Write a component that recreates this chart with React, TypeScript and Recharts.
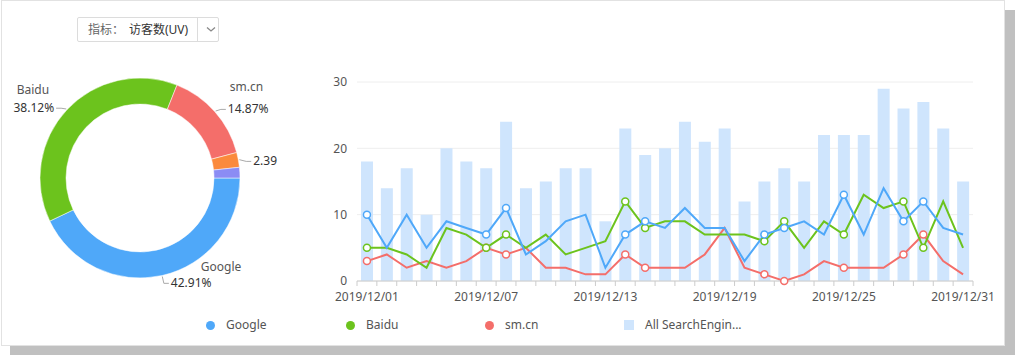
import React from "react";
import {
  PieChart,
  Pie,
  Cell,
  ComposedChart,
  Bar,
  Line,
  XAxis,
  YAxis,
  CartesianGrid,
} from "recharts";

// donut: share of visitors (UV) by search engine
const pieNames = ["Google", "Baidu", "sm.cn", "Other", "Unknown"];
const pieShares = [42.91, 38.12, 14.87, 2.39, 1.71];
const pieLabels = ["42.91%", "38.12%", "14.87%", "2.39", ""];
const pieNameShown = [true, true, true, false, false];
const pieColors = ["#4fa8f9", "#6cc31d", "#f46e6a", "#fb8a3c", "#8b8cf4"];

// daily visitors, December 2019
const dates = [
  "2019/12/01", "2019/12/02", "2019/12/03", "2019/12/04", "2019/12/05", "2019/12/06",
  "2019/12/07", "2019/12/08", "2019/12/09", "2019/12/10", "2019/12/11", "2019/12/12",
  "2019/12/13", "2019/12/14", "2019/12/15", "2019/12/16", "2019/12/17", "2019/12/18",
  "2019/12/19", "2019/12/20", "2019/12/21", "2019/12/22", "2019/12/23", "2019/12/24",
  "2019/12/25", "2019/12/26", "2019/12/27", "2019/12/28", "2019/12/29", "2019/12/30",
  "2019/12/31",
];
const google = [10, 5, 10, 5, 9, 8, 7, 11, 4, 6, 9, 10, 2, 7, 9, 8, 11, 8, 8, 3, 7, 8, 9, 7, 13, 7, 14, 9, 12, 8, 7];
const baidu = [5, 5, 4, 2, 8, 7, 5, 7, 5, 7, 4, 5, 6, 12, 8, 9, 9, 7, 7, 7, 6, 9, 5, 9, 7, 13, 11, 12, 5, 12, 5];
const smcn = [3, 4, 2, 3, 2, 3, 5, 4, 5, 2, 2, 1, 1, 4, 2, 2, 2, 4, 8, 2, 1, 0, 1, 3, 2, 2, 2, 4, 7, 3, 1];
const allEngines = [18, 14, 17, 10, 20, 18, 17, 24, 14, 15, 17, 17, 9, 23, 19, 20, 24, 21, 23, 12, 15, 17, 15, 22, 22, 22, 29, 26, 27, 23, 15];
const yTicks = [0, 10, 20, 30];
// days where the line symbols are drawn
const markerDays = [0, 6, 7, 13, 14, 20, 21, 24, 27, 28];

const pieData = pieNames.map((name, i) => ({ name, value: pieShares[i] }));
const lineData = dates.map((date, i) => ({
  date,
  google: google[i],
  baidu: baidu[i],
  smcn: smcn[i],
  all: allEngines[i],
}));

const FONT = "'Microsoft YaHei', 'Noto Sans', 'Noto Sans CJK SC', sans-serif";
const BLUE = "#4fa8f9";
const GREEN = "#6cc31d";
const RED = "#f46e6a";
const BAR = "#cfe5fd";

const CHART_W = 716;
const MARGIN = { top: 12, right: 43, bottom: 9, left: 0 };
const Y_W = 57;
const BAND = (CHART_W - MARGIN.left - MARGIN.right - Y_W) / dates.length;
const RAD = Math.PI / 180;
// label tweaks per slice (name x shift, text y shift, gap between name and percent)
const nameDx = [30, -5, 2, 0, 0];
const labelDy = [0, 4, 3, 3, 0];
const nameGap = [16, 18, 22, 0, 0];

function PieLabel(props: any) {
  const { cx, cy, midAngle, outerRadius, index } = props;
  const text = pieLabels[index];
  if (!text) return <g />;
  const cos = Math.cos(-midAngle * RAD);
  const sin = Math.sin(-midAngle * RAD);
  const sx = cx + (outerRadius + 1) * cos;
  const sy = cy + (outerRadius + 1) * sin;
  const mx = cx + (outerRadius + 8) * cos;
  const my = cy + (outerRadius + 8) * sin + labelDy[index];
  const dir = cos >= 0 ? 1 : -1;
  const ex = mx + dir * 5;
  const anchor = dir > 0 ? "start" : "end";
  return (
    <g>
      <polyline
        points={`${sx},${sy} ${mx},${my} ${ex},${my}`}
        stroke="#aaa"
        fill="none"
      />
      <text x={ex + dir * 2} y={my + 4} textAnchor={anchor} fill="#333" fontSize={12} fontFamily={FONT}>
        {text}
      </text>
      {pieNameShown[index] && (
        <text
          x={ex + dir * 2 + nameDx[index]}
          y={my + 4 - nameGap[index]}
          textAnchor={anchor}
          fill="#555"
          fontSize={12}
          fontFamily={FONT}
        >
          {pieNames[index]}
        </text>
      )}
    </g>
  );
}

function DateTick(props: any) {
  const { x, y, payload } = props;
  const i = payload.index;
  const half = BAND / 2;
  return (
    <g>
      <line x1={x - half} y1={y} x2={x - half} y2={y + 5} stroke="#ccc" />
      {i === dates.length - 1 && (
        <line x1={x + half} y1={y} x2={x + half} y2={y + 5} stroke="#ccc" />
      )}
      {i % 6 === 0 && (
        <text x={x} y={y + 20} textAnchor="middle" fill="#555" fontSize={12} fontFamily={FONT}>
          {payload.value}
        </text>
      )}
    </g>
  );
}

const makeDot = (color: string) => (props: any) => {
  const { cx, cy, index } = props;
  if (!markerDays.includes(index)) return <g key={`d-${index}`} />;
  return (
    <circle key={`d-${index}`} cx={cx} cy={cy} r={3.5} fill="#fff" stroke={color} strokeWidth={1.5} />
  );
};

const legendItems = [
  { name: "Google", color: BLUE, shape: "dot", x: 210 },
  { name: "Baidu", color: GREEN, shape: "dot", x: 350 },
  { name: "sm.cn", color: RED, shape: "dot", x: 489 },
  { name: "All SearchEngin...", color: BAR, shape: "square", x: 629 },
];

export default function App() {
  return (
    <div
      style={{
        position: "absolute",
        left: 0,
        top: 0,
        width: 1016,
        height: 357,
        background: "#fff",
        fontFamily: FONT,
        overflow: "hidden",
      }}
    >
      <div style={{ position: "absolute", left: 10, top: 10, width: 1005, height: 345, background: "#c0c0c0" }} />
      <div
        style={{
          position: "absolute",
          left: 1,
          top: 0,
          width: 1004,
          height: 346,
          background: "#fff",
          border: "1px solid #e2e2e2",
          boxSizing: "border-box",
        }}
      />

      {/* metric selector */}
      <div
        style={{
          position: "absolute",
          left: 77,
          top: 17,
          width: 142,
          height: 25,
          border: "1px solid #dcdcdc",
          borderRadius: 2,
          boxSizing: "border-box",
          fontSize: 12,
          lineHeight: "23px",
        }}
      >
        <span style={{ position: "absolute", left: 10, color: "#666" }}>指标：</span>
        <span style={{ position: "absolute", left: 51, color: "#333" }}>访客数(UV)</span>
        <div style={{ position: "absolute", left: 119, top: 0, width: 1, height: 23, background: "#dcdcdc" }} />
        <svg style={{ position: "absolute", left: 128, top: 8 }} width={10} height={7}>
          <polyline points="1,1.5 5,5 9,1.5" stroke="#888" strokeWidth={1.3} fill="none" />
        </svg>
      </div>

      <div style={{ position: "absolute", left: 0, top: 38 }}>
        <PieChart width={300} height={280} margin={{ top: 0, right: 0, bottom: 0, left: 0 }}>
          <Pie
            data={pieData}
            dataKey="value"
            cx={140}
            cy={140}
            innerRadius={74}
            outerRadius={100}
            startAngle={0}
            endAngle={-360}
            stroke="#fff"
            strokeWidth={0.5}
            labelLine={false}
            label={PieLabel}
            isAnimationActive={false}
          >
            {pieData.map((entry, index) => (
              <Cell key={`cell-${index}`} fill={pieColors[index]} />
            ))}
          </Pie>
        </PieChart>
      </div>

      <div style={{ position: "absolute", left: 300, top: 70 }}>
        <ComposedChart width={CHART_W} height={250} data={lineData} margin={MARGIN}>
          <CartesianGrid vertical={false} stroke="#eeeeee" />
          <XAxis
            dataKey="date"
            interval={0}
            tickLine={false}
            tickSize={0}
            tickMargin={0}
            axisLine={{ stroke: "#cccccc" }}
            tick={<DateTick />}
            height={30}
          />
          <YAxis
            domain={[0, 30]}
            ticks={yTicks}
            width={Y_W}
            axisLine={false}
            tickLine={false}
            tickSize={0}
            tickMargin={10}
            tick={{ fill: "#555", fontSize: 12, fontFamily: FONT }}
          />
          <Bar dataKey="all" fill={BAR} barSize={12} isAnimationActive={false} />
          <Line
            type="linear"
            dataKey="smcn"
            stroke={RED}
            strokeWidth={2}
            dot={makeDot(RED)}
            activeDot={false}
            isAnimationActive={false}
          />
          <Line
            type="linear"
            dataKey="baidu"
            stroke={GREEN}
            strokeWidth={2}
            dot={makeDot(GREEN)}
            activeDot={false}
            isAnimationActive={false}
          />
          <Line
            type="linear"
            dataKey="google"
            stroke={BLUE}
            strokeWidth={2}
            dot={makeDot(BLUE)}
            activeDot={false}
            isAnimationActive={false}
          />
        </ComposedChart>
      </div>

      {legendItems.map((item) => (
        <div
          key={item.name}
          style={{ position: "absolute", left: item.x - 6, top: 317, height: 16, fontSize: 12, color: "#555", lineHeight: "16px" }}
        >
          <span
            style={{
              position: "absolute",
              left: item.shape === "dot" ? 1.5 : 1,
              top: item.shape === "dot" ? 3.5 : 3,
              width: item.shape === "dot" ? 9 : 10,
              height: item.shape === "dot" ? 9 : 10,
              borderRadius: item.shape === "dot" ? "50%" : 0,
              background: item.color,
            }}
          />
          <span style={{ position: "absolute", left: 22, whiteSpace: "nowrap" }}>{item.name}</span>
        </div>
      ))}
    </div>
  );
}
